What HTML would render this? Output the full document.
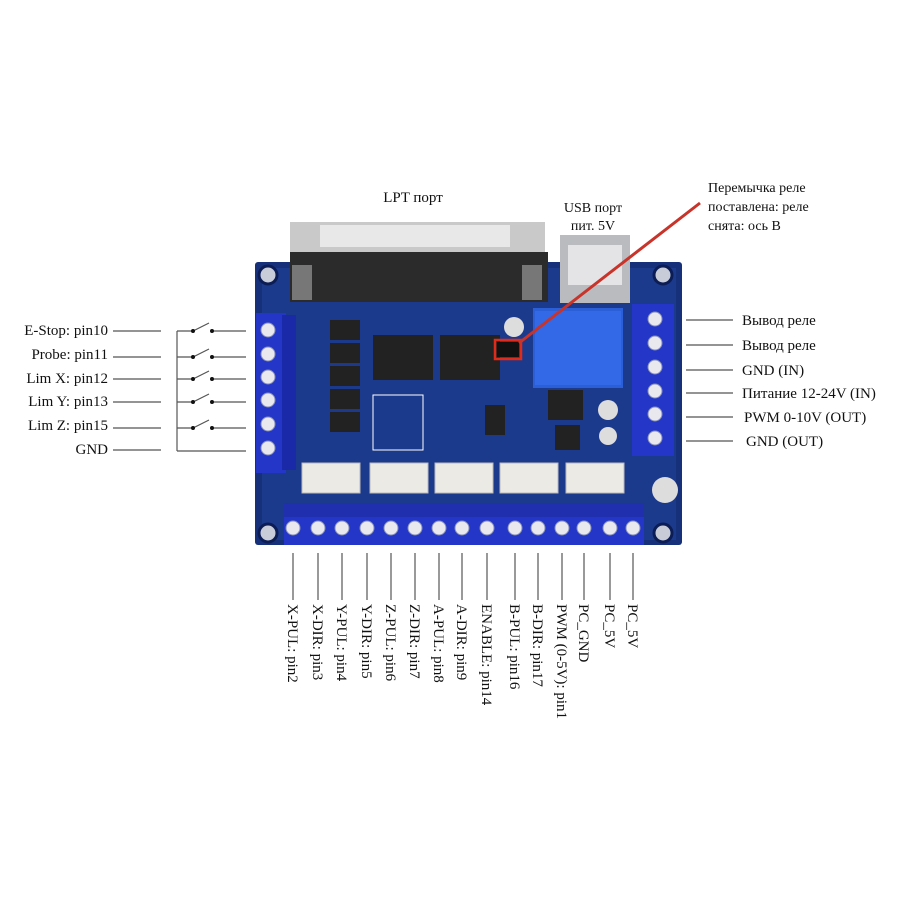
<!DOCTYPE html>
<html><head><meta charset="utf-8"><style>
html,body{margin:0;padding:0;background:#fff;}
svg{display:block;}
text{font-family:"Liberation Serif",serif;fill:#111;}
</style></head><body>
<svg width="900" height="900" viewBox="0 0 900 900" xmlns="http://www.w3.org/2000/svg">
<rect width="900" height="900" fill="#fff"/>
<text x="413" y="202" font-size="15" text-anchor="middle">LPT порт</text>
<text x="593" y="212" font-size="14" text-anchor="middle">USB порт</text>
<text x="593" y="230" font-size="14" text-anchor="middle">пит. 5V</text>
<text x="708" y="192" font-size="14">Перемычка реле</text>
<text x="708" y="211" font-size="14">поставлена: реле</text>
<text x="708" y="230" font-size="14">снята: ось B</text>

<rect x="255" y="262" width="427" height="283" fill="#16307a" rx="3"/>
<rect x="262" y="268" width="414" height="272" fill="#1c3a8c"/>
<g fill="#c8ccd8" stroke="#0c1d55" stroke-width="3">
<circle cx="268" cy="275" r="9"/><circle cx="663" cy="275" r="9"/>
<circle cx="268" cy="533" r="9"/><circle cx="663" cy="533" r="9"/>
</g>
<rect x="290" y="222" width="255" height="30" fill="#c9c9c9"/>
<rect x="320" y="225" width="190" height="22" fill="#e8e8e8"/>
<rect x="290" y="252" width="258" height="50" fill="#2b2b2b"/>
<rect x="292" y="265" width="20" height="35" fill="#777"/>
<rect x="522" y="265" width="20" height="35" fill="#777"/>
<rect x="560" y="235" width="70" height="68" fill="#b9bbbf"/>
<rect x="568" y="245" width="54" height="40" fill="#e4e4e6"/>
<rect x="533" y="308" width="90" height="80" fill="#2b5fd8"/>
<rect x="535" y="311" width="86" height="74" fill="#3369e6"/>
<rect x="373" y="335" width="60" height="45" fill="#222"/>
<rect x="440" y="335" width="60" height="45" fill="#222"/>
<g fill="#222"><rect x="330" y="320" width="30" height="20"/><rect x="330" y="343" width="30" height="20"/><rect x="330" y="366" width="30" height="20"/><rect x="330" y="389" width="30" height="20"/><rect x="330" y="412" width="30" height="20"/></g>
<rect x="485" y="405" width="20" height="30" fill="#222"/>
<rect x="548" y="390" width="35" height="30" fill="#222"/>
<rect x="555" y="425" width="25" height="25" fill="#222"/>
<circle cx="514" cy="327" r="10" fill="#ddd"/>
<circle cx="608" cy="410" r="10" fill="#ddd"/>
<circle cx="608" cy="436" r="9" fill="#ddd"/>
<circle cx="665" cy="490" r="13" fill="#ddd"/>
<rect x="373" y="395" width="50" height="55" fill="none" stroke="#fff" stroke-width="1"/>
<rect x="497" y="342" width="22" height="15" fill="#111"/>
<rect x="495" y="340" width="26" height="19" fill="none" stroke="#e02a1a" stroke-width="2.5"/>
<line x1="519" y1="343" x2="700" y2="203" stroke="#c8332a" stroke-width="3"/>
<g fill="#eceae4" stroke="#bbb"><rect x="302" y="463" width="58" height="30"/><rect x="370" y="463" width="58" height="30"/><rect x="435" y="463" width="58" height="30"/><rect x="500" y="463" width="58" height="30"/><rect x="566" y="463" width="58" height="30"/></g>
<rect x="256" y="313" width="30" height="160" fill="#2336c8"/>
<rect x="282" y="315" width="14" height="155" fill="#1a29a8"/>
<g fill="#e8e8ee" stroke="#8890b8"><circle cx="268" cy="330" r="7"/><circle cx="268" cy="354" r="7"/><circle cx="268" cy="377" r="7"/><circle cx="268" cy="400" r="7"/><circle cx="268" cy="424" r="7"/><circle cx="268" cy="448" r="7"/></g>
<rect x="632" y="304" width="42" height="152" fill="#2336c8"/>
<g fill="#e8e8ee" stroke="#8890b8"><circle cx="655" cy="319" r="7"/><circle cx="655" cy="343" r="7"/><circle cx="655" cy="367" r="7"/><circle cx="655" cy="391" r="7"/><circle cx="655" cy="414" r="7"/><circle cx="655" cy="438" r="7"/></g>
<rect x="284" y="505" width="360" height="40" fill="#2336c8"/>
<rect x="284" y="503" width="360" height="14" fill="#1f2fae"/>
<g fill="#e8e8ee" stroke="#8890b8">
<circle cx="293" cy="528" r="7"/><circle cx="318" cy="528" r="7"/><circle cx="342" cy="528" r="7"/><circle cx="367" cy="528" r="7"/><circle cx="391" cy="528" r="7"/><circle cx="415" cy="528" r="7"/><circle cx="439" cy="528" r="7"/><circle cx="462" cy="528" r="7"/><circle cx="487" cy="528" r="7"/><circle cx="515" cy="528" r="7"/><circle cx="538" cy="528" r="7"/><circle cx="562" cy="528" r="7"/><circle cx="584" cy="528" r="7"/><circle cx="610" cy="528" r="7"/><circle cx="633" cy="528" r="7"/></g>

<g font-size="15" text-anchor="end">
<text x="108" y="335">E-Stop: pin10</text>
<text x="108" y="359">Probe: pin11</text>
<text x="108" y="383">Lim X: pin12</text>
<text x="108" y="406">Lim Y: pin13</text>
<text x="108" y="430">Lim Z: pin15</text>
<text x="108" y="454">GND</text>
</g>
<g stroke="#555" stroke-width="1.2" fill="none">
<line x1="113" y1="331" x2="161" y2="331"/><line x1="113" y1="357" x2="161" y2="357"/><line x1="113" y1="379" x2="161" y2="379"/><line x1="113" y1="402" x2="161" y2="402"/><line x1="113" y1="428" x2="161" y2="428"/><line x1="113" y1="450" x2="161" y2="450"/>
<line x1="177" y1="331" x2="177" y2="451"/>
<line x1="177" y1="451" x2="246" y2="451"/>
<path d="M177 331H193L209 323M212 331H246"/>
<path d="M177 357H193L209 349M212 357H246"/>
<path d="M177 379H193L209 371M212 379H246"/>
<path d="M177 402H193L209 394M212 402H246"/>
<path d="M177 428H193L209 420M212 428H246"/>
</g>
<g fill="#111"><circle cx="193" cy="331" r="2"/><circle cx="212" cy="331" r="2"/><circle cx="193" cy="357" r="2"/><circle cx="212" cy="357" r="2"/><circle cx="193" cy="379" r="2"/><circle cx="212" cy="379" r="2"/><circle cx="193" cy="402" r="2"/><circle cx="212" cy="402" r="2"/><circle cx="193" cy="428" r="2"/><circle cx="212" cy="428" r="2"/></g>

<g stroke="#555" stroke-width="1.2">
<line x1="686" y1="320" x2="733" y2="320"/><line x1="686" y1="345" x2="733" y2="345"/><line x1="686" y1="370" x2="733" y2="370"/><line x1="686" y1="393" x2="733" y2="393"/><line x1="686" y1="417" x2="733" y2="417"/><line x1="686" y1="441" x2="733" y2="441"/>
</g>
<g font-size="15">
<text x="742" y="325">Вывод реле</text>
<text x="742" y="350">Вывод реле</text>
<text x="742" y="375">GND (IN)</text>
<text x="742" y="398">Питание 12-24V (IN)</text>
<text x="744" y="422">PWM 0-10V (OUT)</text>
<text x="746" y="446">GND (OUT)</text>
</g>

<g stroke="#555" stroke-width="1.2">
<line x1="293" y1="553" x2="293" y2="600"/><line x1="318" y1="553" x2="318" y2="600"/><line x1="342" y1="553" x2="342" y2="600"/><line x1="367" y1="553" x2="367" y2="600"/><line x1="391" y1="553" x2="391" y2="600"/><line x1="415" y1="553" x2="415" y2="600"/><line x1="439" y1="553" x2="439" y2="600"/><line x1="462" y1="553" x2="462" y2="600"/><line x1="487" y1="553" x2="487" y2="600"/><line x1="515" y1="553" x2="515" y2="600"/><line x1="538" y1="553" x2="538" y2="600"/><line x1="562" y1="553" x2="562" y2="600"/><line x1="584" y1="553" x2="584" y2="600"/><line x1="610" y1="553" x2="610" y2="600"/><line x1="633" y1="553" x2="633" y2="600"/>
</g>
<g font-size="15">
<text transform="translate(288,604) rotate(90)">X-PUL: pin2</text>
<text transform="translate(313,604) rotate(90)">X-DIR: pin3</text>
<text transform="translate(337,604) rotate(90)">Y-PUL: pin4</text>
<text transform="translate(362,604) rotate(90)">Y-DIR: pin5</text>
<text transform="translate(386,604) rotate(90)">Z-PUL: pin6</text>
<text transform="translate(410,604) rotate(90)">Z-DIR: pin7</text>
<text transform="translate(434,604) rotate(90)">A-PUL: pin8</text>
<text transform="translate(457,604) rotate(90)">A-DIR: pin9</text>
<text transform="translate(482,604) rotate(90)">ENABLE: pin14</text>
<text transform="translate(510,604) rotate(90)">B-PUL: pin16</text>
<text transform="translate(533,604) rotate(90)">B-DIR: pin17</text>
<text transform="translate(557,604) rotate(90)">PWM (0-5V): pin1</text>
<text transform="translate(579,604) rotate(90)">PC_GND</text>
<text transform="translate(605,604) rotate(90)">PC_5V</text>
<text transform="translate(628,604) rotate(90)">PC_5V</text>
</g>
</svg>
</body></html>
